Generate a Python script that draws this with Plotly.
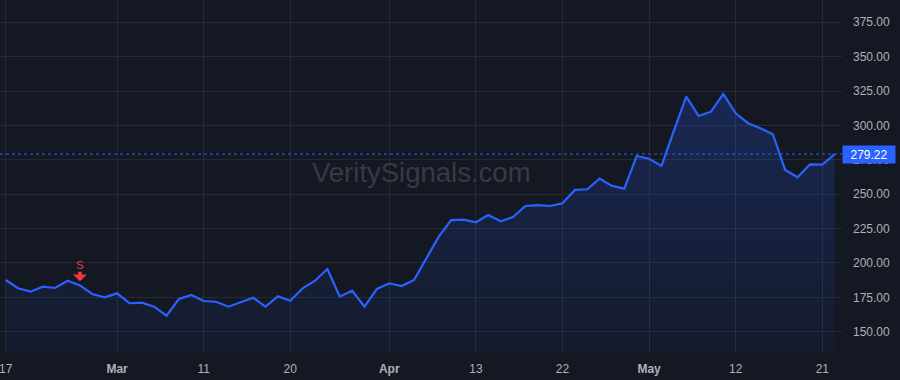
import plotly.graph_objects as go

# ---- data ----
prices = [
    187.6, 181.6, 179.1, 182.7, 181.8, 187.1, 183.7, 177.4, 175.0, 177.9,
    170.7, 171.1, 168.2, 161.6, 173.8, 176.7, 172.3, 171.8, 168.2, 171.4,
    174.7, 168.2, 175.7, 172.5, 181.6, 187.1, 195.6, 175.5, 179.8, 168.2,
    181.1, 185.2, 183.2, 187.6, 203.0, 219.1, 231.2, 231.5, 229.6, 234.9,
    230.3, 233.4, 241.4, 242.1, 241.4, 243.4, 253.1, 253.6, 261.3, 256.0,
    254.0, 277.8, 275.8, 270.5, 296.0, 320.9, 306.9, 310.0, 322.9, 308.8,
    301.6, 297.9, 293.6, 267.6, 262.3, 271.7, 271.5, 279.22,
]
bar_index = list(range(len(prices)))
tick_index = [0, 9, 16, 23, 31, 38, 45, 52, 59, 66]
tick_labels = ["17", "<b>Mar</b>", "11", "20", "<b>Apr</b>", "13", "22", "<b>May</b>", "12", "21"]
y_ticks = [150, 175, 200, 225, 250, 275, 300, 325, 350, 375]
signal_index = 6
signal_label = "S"
last_price = prices[-1]
watermark = "VeritySignals.com"

BG = "#141823"
GRID = "#262a35"
LINE = "#2962ff"
TXT = "#aeb1b9"
RED = "#f23645"
FONT = "Liberation Sans, Arial, sans-serif"

fig = go.Figure()
fig.add_trace(go.Scatter(
    x=bar_index, y=prices, mode="lines",
    line=dict(color=LINE, width=2.2),
    fill="tozeroy",
    fillgradient=dict(
        type="vertical", start=135.2, stop=max(prices),
        colorscale=[[0, "rgba(41,98,255,0.04)"], [1, "rgba(41,98,255,0.22)"]],
    ),
    hoverinfo="skip", showlegend=False,
))

# last price dotted line
fig.add_shape(type="line", xref="paper", x0=0, x1=1, yref="y", y0=last_price, y1=last_price,
              line=dict(color=LINE, width=1, dash="dot"), layer="above")

# price label box
fig.add_annotation(xref="paper", x=1, xanchor="left", yref="y", y=last_price, yanchor="middle",
                   text=f"{last_price:.2f}", showarrow=False, bgcolor=LINE,
                   font=dict(color="white", size=12, family=FONT),
                   width=48, height=13, borderpad=2, align="center", xshift=0)

# signal marker
fig.add_annotation(x=signal_index, y=prices[signal_index], text=signal_label,
                   font=dict(color=RED, size=11.5, family=FONT),
                   showarrow=True, arrowcolor=RED, arrowhead=1, arrowsize=0.62,
                   arrowwidth=3.7, ax=0, ay=-20, standoff=4, borderpad=0)

# watermark
fig.add_annotation(xref="paper", yref="paper", x=0.5, y=0.511, text=watermark, showarrow=False,
                   font=dict(color="#373a44", size=27.5, family=FONT), xanchor="center", yanchor="middle")

fig.update_layout(
    width=900, height=380,
    margin=dict(l=0, r=58, t=0, b=28),
    paper_bgcolor=BG, plot_bgcolor=BG,
    font=dict(family=FONT, size=12, color=TXT),
    xaxis=dict(range=[-0.461, 67.59], tickvals=tick_index, ticktext=tick_labels,
               showgrid=True, gridcolor=GRID, gridwidth=1, zeroline=False, showline=False,
               ticks="", ticklabelstandoff=8, ticklabeloverflow="allow",
               tickfont=dict(size=12, color=TXT), fixedrange=True),
    yaxis=dict(range=[135.24, 391.2], side="right", tickvals=y_ticks, tickformat=".2f",
               showgrid=True, gridcolor=GRID, gridwidth=1, zeroline=False, showline=False,
               ticks="", ticklabelstandoff=10, tickfont=dict(size=12, color=TXT), fixedrange=True),
)

fig.write_html("out.html")
